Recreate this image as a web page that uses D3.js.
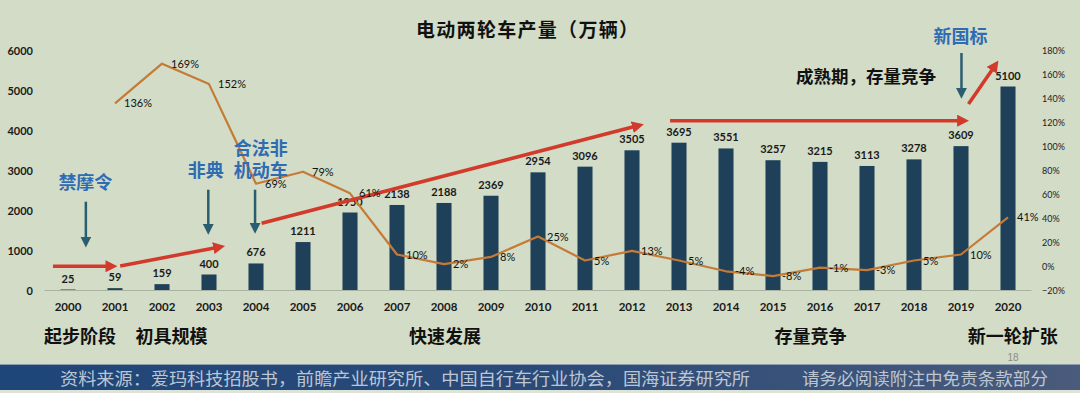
<!DOCTYPE html>
<html><head><meta charset="utf-8">
<script src="https://cdn.jsdelivr.net/npm/d3@7"></script>
<style>
html,body{margin:0;padding:0;background:#d2dcc6;}
svg{display:block;}
</style></head>
<body>
<svg id="c" width="1080" height="393"></svg>
<script>
// ---- data ----
const years = ["2000","2001","2002","2003","2004","2005","2006","2007","2008","2009","2010","2011","2012","2013","2014","2015","2016","2017","2018","2019","2020"];
const output = [25,59,159,400,676,1211,1950,2138,2188,2369,2954,3096,3505,3695,3551,3257,3215,3113,3278,3609,5100];
const growth = [null,1.36,1.69,1.52,0.69,0.79,0.61,0.10,0.02,0.08,0.25,0.05,0.13,0.05,-0.04,-0.08,-0.01,-0.03,0.05,0.10,0.41];
const leftTicks = [0,1000,2000,3000,4000,5000,6000];
const rightTicks = [-0.2,0,0.2,0.4,0.6,0.8,1.0,1.2,1.4,1.6,1.8];
const title = "电动两轮车产量（万辆）";
const policyNotes = [
  {lines:["禁摩令"], at:0.37, v:[2712]},
  {lines:["非典"], at:2.93, v:[3012]},
  {lines:["合法非","机动车"], at:4.10, v:[3562,3012]},
  {lines:["新国标"], at:18.99, v:[6362]}
];
const policyArrows = [[0.38,2220,1095],[2.985,2520,1412],[3.98,2520,1437],[19.01,5937,4812]];
const trendArrows = [[-0.32,605,1.04,605],[1.11,612,3.33,1112],[4.12,1680,12.24,4155],[12.81,4245,19.16,4245],[19.16,4662,19.79,5737]];
const phases = [["起步阶段",0.255],["初具规模",2.2],["快速发展",8.02],["存量竞争",15.8],["新一轮扩张",20.1]];
const matureNote = ["成熟期，存量竞争",16.98,5362];
const sourceText = "资料来源：爱玛科技招股书，前瞻产业研究所、中国自行车行业协会，国海证券研究所";
const disclaimer = "请务必阅读附注中免责条款部分";
const pageNo = "18";

// ---- setup ----
const svg = d3.select("#c");
const W = 1080;
const numFont = "Lato, 'Noto Sans CJK SC', sans-serif";
const cjk = "'Noto Sans CJK SC', 'Noto Sans', sans-serif";

svg.append("rect").attr("width",W).attr("height",393).attr("fill","#d2dcc6");

const x = d3.scaleBand().domain(years).range([44.5,1031.5]).paddingInner(0.68).paddingOuter(0.34);
const yL = d3.scaleLinear().domain([0,6000]).range([290.5,50.5]);
const yR = d3.scaleLinear().domain([-0.2,1.8]).range([290.5,50.5]);
const step = x.step();
const cx0 = x(years[0]) + x.bandwidth()/2;
const xi = i => cx0 + i*step;

const defs = svg.append("defs");
const g1 = defs.append("linearGradient").attr("id","foot").attr("x1","0").attr("x2","1");
g1.append("stop").attr("offset","0").attr("stop-color","#1f4679");
g1.append("stop").attr("offset","0.5").attr("stop-color","#2a4a78");
g1.append("stop").attr("offset","1").attr("stop-color","#4a5b7b");
function marker(id,color,size){
  defs.append("marker").attr("id",id).attr("viewBox","0 0 10 10").attr("refX",2).attr("refY",5)
    .attr("markerWidth",size).attr("markerHeight",size).attr("orient","auto").attr("markerUnits","userSpaceOnUse")
    .append("path").attr("d","M0,0 L10,5 L0,10 Z").attr("fill",color);
}
marker("redHead","#d23a2b",12);
marker("tealHead","#2b5d70",11);

// title
svg.append("text").attr("x",416).attr("y",37).attr("textLength",222).attr("lengthAdjust","spacing")
  .attr("font-family",cjk).attr("font-weight",700).attr("font-size",19).attr("fill","#111").text(title);

// bars
svg.append("g").selectAll("rect").data(output).join("rect")
  .attr("x",(d,i)=>x(years[i])).attr("width",x.bandwidth())
  .attr("y",d=>yL(d)).attr("height",d=>yL(0)-yL(d)).attr("fill","#1f4059");

// baseline
svg.append("line").attr("x1",44.5).attr("x2",1031.5).attr("y1",yL(0)).attr("y2",yL(0))
  .attr("stroke","#aab3a2").attr("stroke-width",1);

// bar labels
svg.append("g").selectAll("text").data(output).join("text")
  .attr("x",(d,i)=>x(years[i])+x.bandwidth()/2).attr("y",d=>yL(d)-7)
  .attr("text-anchor","middle").attr("font-family",numFont).attr("font-weight",700)
  .attr("font-size",11).attr("fill","#1a1a1a").text(d=>d);

// axes
const axL = svg.append("g").attr("transform","translate(36,0)")
  .call(d3.axisLeft(yL).tickValues(leftTicks).tickSize(0).tickPadding(3).tickFormat(d3.format("d")));
axL.select(".domain").remove();
axL.selectAll("text").attr("font-family",numFont).attr("font-weight",700).attr("font-size",11).attr("fill","#1a1a1a");

const axR = svg.append("g").attr("transform","translate(1038,0)")
  .call(d3.axisRight(yR).tickValues(rightTicks).tickSize(0).tickPadding(4).tickFormat(d3.format(".0%")));
axR.select(".domain").remove();
axR.selectAll("text").attr("font-family",numFont).attr("font-size",9).attr("fill","#222");

const axB = svg.append("g").attr("transform",`translate(0,${yL(0)})`)
  .call(d3.axisBottom(x).tickSize(0).tickPadding(12));
axB.select(".domain").remove();
axB.selectAll("text").attr("font-family",numFont).attr("font-weight",700).attr("font-size",11.5).attr("fill","#1a1a1a");

// growth line
const gData = growth.map((g,i)=>({g,i})).filter(d=>d.g!==null);
svg.append("path").datum(gData)
  .attr("d",d3.line().x(d=>x(years[d.i])+x.bandwidth()/2).y(d=>yR(d.g)).curve(d3.curveLinear))
  .attr("fill","none").attr("stroke","#c57a36").attr("stroke-width",2.2).attr("stroke-linejoin","round");

// red trend arrows
svg.append("g").selectAll("line").data(trendArrows).join("line")
  .attr("x1",d=>xi(d[0])).attr("y1",d=>yL(d[1]))
  .attr("x2",d=>{const dx=xi(d[2])-xi(d[0]),dy=yL(d[3])-yL(d[1]);const L=Math.hypot(dx,dy);return xi(d[2])-dx/L*9;})
  .attr("y2",d=>{const dx=xi(d[2])-xi(d[0]),dy=yL(d[3])-yL(d[1]);const L=Math.hypot(dx,dy);return yL(d[3])-dy/L*9;})
  .attr("stroke","#d23a2b").attr("stroke-width",3.5).attr("marker-end","url(#redHead)");

// growth labels
svg.append("g").selectAll("text").data(gData).join("text")
  .attr("x",d=>x(years[d.i])+x.bandwidth()/2+9).attr("y",d=>yR(d.g)+4)
  .attr("font-family",numFont).attr("font-weight",400).attr("font-size",11).attr("fill","#111")
  .text(d=>Math.round(d.g*100)+"%");

// policy arrows
svg.append("g").selectAll("line").data(policyArrows).join("line")
  .attr("x1",d=>xi(d[0])).attr("x2",d=>xi(d[0]))
  .attr("y1",d=>yL(d[1])).attr("y2",d=>yL(d[2])-8)
  .attr("stroke","#2b5d70").attr("stroke-width",2.5).attr("marker-end","url(#tealHead)");

// policy notes
policyNotes.forEach(n=>{
  n.lines.forEach((t,k)=>{
    svg.append("text").attr("x",xi(n.at)).attr("y",yL(n.v[k])+6.5).attr("text-anchor","middle")
      .attr("font-family",cjk).attr("font-weight",700).attr("font-size",18).attr("fill","#2f6cb3").text(t);
  });
});

// mature note
svg.append("text").attr("x",xi(matureNote[1])).attr("y",yL(matureNote[2])+6.5).attr("text-anchor","middle")
  .attr("font-family",cjk).attr("font-weight",700).attr("font-size",17.5).attr("fill","#111").text(matureNote[0]);

// phases
svg.append("g").selectAll("text").data(phases).join("text")
  .attr("x",d=>xi(d[1])).attr("y",343).attr("text-anchor","middle")
  .attr("font-family",cjk).attr("font-weight",700).attr("font-size",18).attr("fill","#111").text(d=>d[0]);

// page number
svg.append("text").attr("x",1013).attr("y",361).attr("text-anchor","middle")
  .attr("font-family","'Liberation Sans', sans-serif").attr("font-size",10).attr("fill","#8a8f88").text(pageNo);

// footer
svg.append("rect").attr("x",0).attr("y",390).attr("width",W).attr("height",3).attr("fill","#dde3d6");
svg.append("rect").attr("x",0).attr("y",365).attr("width",W).attr("height",25).attr("fill","url(#foot)");
svg.append("line").attr("x1",0).attr("x2",W).attr("y1",364.5).attr("y2",364.5).attr("stroke","#8d9cae").attr("stroke-width",1);
svg.append("text").attr("x",60).attr("y",384.5).attr("textLength",690).attr("lengthAdjust","spacingAndGlyphs")
  .attr("font-family",cjk).attr("font-size",17).attr("fill","#bcc6d3").text(sourceText);
svg.append("text").attr("x",802).attr("y",384.5).attr("textLength",246).attr("lengthAdjust","spacingAndGlyphs")
  .attr("font-family",cjk).attr("font-size",17).attr("fill","#bcc6d3").text(disclaimer);
</script>
</body></html>
